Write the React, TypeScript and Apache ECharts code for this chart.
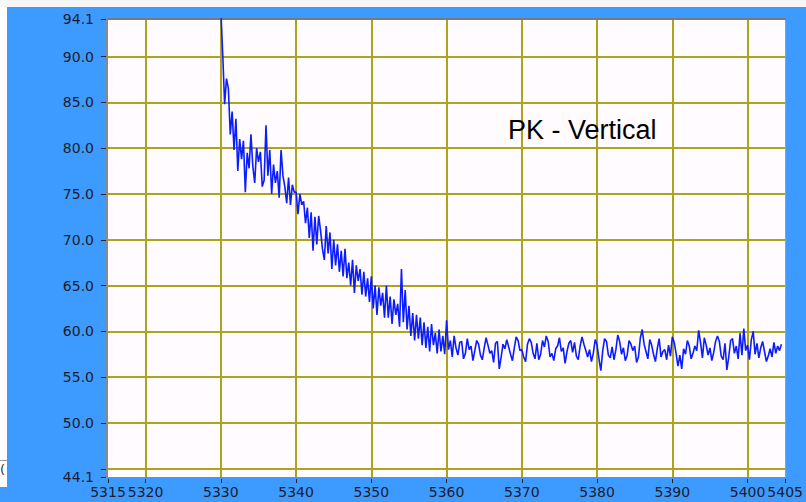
import React, { useEffect, useRef } from "react";
import * as echarts from "echarts";

// Sampling of the trace (x in the axis unit)
const xStart = 5330;
const xStep = 0.25;

// Trace values, 4 samples per x unit
const traceValues: number[] = [
  95.0, 90.2, 84.8, 87.6, // 5330
  86.5, 81.5, 84.0, 79.8, // 5331
  83.2, 77.5, 81.0, 78.8, // 5332
  80.8, 75.2, 79.5, 77.8, // 5333
  81.5, 78.0, 76.2, 80.0, // 5334
  78.5, 79.6, 75.8, 76.5, // 5335
  82.5, 77.0, 79.8, 75.0, // 5336
  78.2, 76.2, 77.5, 74.6, // 5337
  79.8, 77.0, 75.8, 74.0, // 5338
  76.8, 73.8, 76.0, 75.2, // 5339
  75.2, 72.8, 75.0, 73.8, // 5340
  74.2, 71.8, 73.5, 70.2, // 5341
  73.0, 68.8, 72.5, 69.5, // 5342
  72.6, 71.0, 69.0, 67.8, // 5343
  71.5, 68.5, 70.8, 66.8, // 5344
  70.0, 67.2, 69.5, 66.5, // 5345
  68.8, 66.0, 69.0, 65.8, // 5346
  67.5, 65.0, 67.8, 64.2, // 5347
  67.2, 65.5, 66.8, 64.0, // 5348
  66.5, 63.8, 65.8, 63.2, // 5349
  66.0, 62.5, 65.0, 61.8, // 5350
  64.8, 62.8, 64.2, 61.5, // 5351
  65.0, 61.5, 63.8, 60.8, // 5352
  63.5, 61.8, 63.0, 60.5, // 5353
  66.8, 61.0, 64.5, 60.2, // 5354
  62.8, 59.5, 62.0, 59.0, // 5355
  61.8, 59.2, 61.5, 58.5, // 5356
  61.0, 58.2, 60.5, 57.8, // 5357
  60.8, 58.5, 59.8, 57.6, // 5358
  60.2, 57.8, 59.5, 57.5, // 5359
  61.2, 58.0, 59.0, 57.2, // 5360
  59.5, 58.2, 57.4, 58.8, // 5361
  58.9, 57.0, 57.6, 59.2, // 5362
  58.0, 58.4, 56.8, 57.9, // 5363
  59.0, 58.6, 57.4, 56.9, // 5364
  58.2, 59.3, 58.5, 57.6, // 5365
  57.9, 56.6, 58.7, 58.9, // 5366
  55.9, 57.2, 58.6, 58.1, // 5367
  59.1, 58.3, 57.5, 56.8, // 5368
  58.2, 59.4, 59.0, 57.9, // 5369
  58.0, 57.2, 56.7, 58.6, // 5370
  59.2, 58.8, 57.6, 57.0, // 5371
  58.7, 56.9, 57.5, 59.0, // 5372
  58.3, 59.5, 58.9, 57.2, // 5373
  57.6, 56.8, 58.1, 58.4, // 5374
  59.3, 57.8, 58.2, 56.5, // 5375
  57.8, 58.7, 59.0, 57.7, // 5376
  58.8, 57.3, 56.9, 58.4, // 5377
  59.4, 58.6, 57.9, 57.2, // 5378
  58.0, 56.7, 57.6, 59.1, // 5379
  58.5, 57.0, 55.7, 57.9, // 5380
  59.2, 58.9, 57.4, 57.1, // 5381
  58.3, 56.9, 58.0, 59.6, // 5382
  58.9, 57.5, 58.2, 56.8, // 5383
  57.4, 59.0, 58.6, 57.9, // 5384
  58.4, 56.6, 57.2, 59.3, // 5385
  60.2, 58.6, 57.8, 57.0, // 5386
  59.1, 58.5, 57.5, 56.7, // 5387
  58.1, 59.2, 57.2, 57.8, // 5388
  58.0, 56.9, 58.5, 57.3, // 5389
  59.4, 58.8, 57.6, 56.2, // 5390
  57.4, 55.9, 58.1, 57.5, // 5391
  59.0, 58.4, 57.0, 57.6, // 5392
  58.4, 57.9, 60.1, 58.8, // 5393
  57.1, 59.3, 58.5, 57.4, // 5394
  58.2, 56.8, 57.7, 58.9, // 5395
  59.5, 58.9, 57.3, 56.9, // 5396
  58.7, 55.8, 57.2, 59.0, // 5397
  59.2, 57.6, 58.4, 57.0, // 5398
  59.8, 57.4, 60.3, 57.9, // 5399
  58.5, 56.9, 59.1, 60.0, // 5400
  57.5, 58.7, 57.1, 58.2, // 5401
  58.9, 57.8, 56.7, 57.3, // 5402
  58.1, 57.2, 58.8, 57.6, // 5403
  58.4, 57.9, 58.6, // 5404
];

const xMin = 5315;
const xMax = 5405;
const xTicks = [5315, 5320, 5330, 5340, 5350, 5360, 5370, 5380, 5390, 5400, 5405];
const yMin = 44.1;
const yMax = 94.1;
const yTicks = [44.1, 45, 50, 55, 60, 65, 70, 75, 80, 85, 90, 94.1];
const yHiddenLabels = [45];
const yExtraGridLines = [45];
const annotation = "PK - Vertical";

export default function App() {
  const ref = useRef<HTMLDivElement>(null);

  useEffect(() => {
    if (!ref.current) return;
    const chart = echarts.init(ref.current, undefined, { renderer: "svg" });
    const data = traceValues.map((v, i) => [xStart + i * xStep, v]);
    const labelColor = "#1b1b2b";
    const gridColor = "#afa31c";
    const font = "DejaVu Sans";

    chart.setOption({
      animation: false,
      backgroundColor: "#ffffff",
      grid: {
        show: true,
        left: 108,
        right: 15,
        top: 19,
        bottom: 25,
        backgroundColor: "#fffbff",
        borderWidth: 0,
        containLabel: false,
      },
      xAxis: [
        {
          type: "value",
          min: xMin,
          max: xMax,
          position: "bottom",
          offset: 2,
          axisLine: { show: false },
          axisTick: {
            show: true,
            length: 4,
            customValues: xTicks,
            lineStyle: { color: "#222", width: 1 },
          },
          axisLabel: {
            show: true,
            customValues: xTicks,
            showMinLabel: true,
            showMaxLabel: true,
            margin: 6,
            color: labelColor,
            fontFamily: font,
            fontSize: 14,
            formatter: (v: number) => String(v),
          },
          splitLine: {
            show: true,
            showMinLine: false,
            showMaxLine: false,
            lineStyle: { color: gridColor, width: 2 },
          },
        },
        {
          type: "value",
          min: xMin,
          max: xMax,
          position: "top",
          axisLine: { show: true, lineStyle: { color: "#7a7a7a", width: 2 } },
          axisTick: { show: false },
          axisLabel: { show: false },
          splitLine: { show: false },
        },
      ],
      yAxis: {
        type: "value",
        min: yMin,
        max: yMax,
        offset: 2,
        axisLine: { show: true, lineStyle: { color: "#8a8a8a", width: 1 } },
        axisTick: {
          show: true,
          length: 5,
          customValues: yTicks,
          lineStyle: { color: "#222", width: 1 },
        },
        axisLabel: {
          show: true,
          customValues: yTicks,
          showMinLabel: true,
          showMaxLabel: true,
          margin: 12,
          color: labelColor,
          fontFamily: font,
          fontSize: 14,
          formatter: (v: number) =>
            yHiddenLabels.some((h) => Math.abs(h - v) < 1e-6) ? "" : v.toFixed(1),
        },
        splitLine: {
          show: true,
          showMinLine: false,
          showMaxLine: false,
          lineStyle: { color: gridColor, width: 2 },
        },
      },
      graphic: [
        { type: "rect", z: -10, shape: { x: 0, y: 0, width: 806, height: 7 }, style: { fill: "#f6f6f6" } },
        { type: "rect", z: -10, shape: { x: 7, y: 7, width: 799, height: 495 }, style: { fill: "#3d9bff" } },
        { type: "rect", z: -10, shape: { x: 0, y: 487, width: 7, height: 15 }, style: { fill: "#3d9bff" } },
        { type: "rect", z: -10, shape: { x: 0, y: 460, width: 7, height: 1 }, style: { fill: "#9a9a9a" } },
        {
          type: "text",
          z: 10,
          left: 0,
          top: 463,
          style: { text: "(", fill: "#333", font: "13px DejaVu Sans" },
        },
        {
          type: "text",
          z: 100,
          left: 508,
          top: 116,
          style: { text: annotation, fill: "#000", font: "27px Liberation Sans" },
        },
      ],
      series: [
        {
          type: "line",
          xAxisIndex: 0,
          data,
          showSymbol: false,
          symbol: "none",
          clip: true,
          lineStyle: { color: "#0b1dff", width: 1.6 },
          z: 5,
          markLine: {
            silent: true,
            symbol: "none",
            label: { show: false },
            emphasis: { disabled: true },
            lineStyle: { color: gridColor, width: 2, type: "solid" },
            data: yExtraGridLines.map((v) => ({ yAxis: v })),
          },
        },
      ],
    });

    return () => chart.dispose();
  }, []);

  return (
    <div
      ref={ref}
      style={{ position: "absolute", left: 0, top: 0, width: 806, height: 502 }}
    />
  );
}
